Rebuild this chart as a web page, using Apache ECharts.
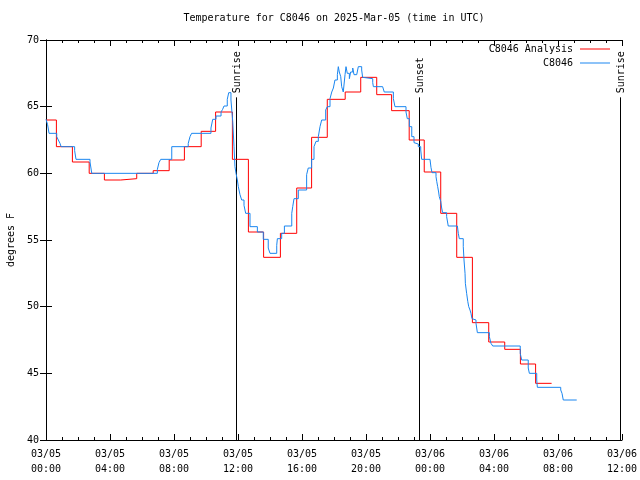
<!DOCTYPE html>
<html>
<head>
<meta charset="utf-8">
<script src="https://cdn.jsdelivr.net/npm/echarts@6/dist/echarts.min.js"></script>
<style>html,body{margin:0;padding:0;background:#fff}#c{width:640px;height:480px}</style>
</head>
<body>
<div id="c"></div>
<script>
// hours since 2025-03-05 00:00 UTC
const analysisHours = [0, 0.65, 1.65, 2.7, 3.65, 4.67, 5.67, 6.7, 7.7, 8.65, 9.7, 10.6, 11.65, 12.65, 13.6, 14.65, 15.67, 16.6, 17.58, 18.7, 19.67, 20.67, 21.6, 22.7, 23.64, 24.67, 25.67, 26.65, 27.67, 28.67, 29.65, 30.6, 31.6];
const analysisTemps = [64.0, 62.0, 60.85, 60.0, 59.5, 59.6, 60.0, 60.2, 61.0, 62.0, 63.15, 64.6, 61.05, 55.6, 53.7, 55.5, 58.9, 62.7, 65.55, 66.1, 67.2, 65.9, 64.7, 62.5, 60.1, 57.0, 53.7, 48.8, 47.35, 46.8, 45.7, 44.25, 44.25];

const obsHours = [0, 0.1, 0.19, 0.67, 0.77, 0.875, 0.94, 1.79, 1.875, 2.75, 2.86, 6.96, 7.06, 7.17, 7.86, 8.89, 9.0, 9.1, 10.31, 10.42, 10.625, 10.94, 11.04, 11.125, 11.33, 11.42, 11.56, 11.67, 11.75, 11.81, 11.875, 11.96, 12.02, 12.125, 12.23, 12.375, 12.48, 12.75, 13.21, 13.58, 13.89, 14.0, 14.42, 14.46, 14.73, 14.9, 15.36, 15.42, 15.5, 15.77, 16.29, 16.39, 16.6, 16.75, 16.875, 17.02, 17.125, 17.23, 17.48, 17.58, 17.75, 17.86, 17.96, 18.06, 18.21, 18.27, 18.33, 18.42, 18.48, 18.58, 18.69, 18.75, 18.83, 18.96, 19.04, 19.17, 19.25, 19.42, 19.52, 19.73, 19.79, 19.875, 20.42, 20.46, 21.04, 21.14, 21.71, 21.81, 22.5, 22.58, 22.71, 22.86, 23.0, 23.125, 23.27, 23.42, 23.48, 24.0, 24.06, 24.125, 24.375, 24.42, 24.48, 24.54, 24.58, 24.67, 24.73, 24.79, 25.04, 25.14, 25.71, 25.77, 25.83, 26.08, 26.125, 26.19, 26.21, 26.29, 26.36, 26.42, 26.5, 26.56, 26.625, 26.67, 26.875, 26.96, 27.71, 27.81, 27.92, 29.64, 29.73, 30.14, 30.21, 30.67, 30.71, 32.17, 32.25, 32.33, 33.17];
const obsTemps = [64.05, 63.65, 63.0, 62.75, 62.5, 62.25, 62.0, 61.7, 61.05, 60.85, 60.0, 60.3, 60.8, 61.05, 62.0, 62.25, 62.75, 63.0, 63.4, 64.05, 64.3, 64.6, 64.8, 65.05, 65.55, 66.05, 65.5, 63.9, 62.0, 60.5, 60.0, 59.5, 59.0, 58.4, 58.0, 57.6, 57.0, 56.0, 55.6, 55.05, 54.4, 54.0, 54.6, 55.1, 55.5, 56.05, 57.0, 57.5, 58.1, 58.75, 59.9, 60.4, 61.05, 62.0, 62.4, 62.75, 63.5, 64.0, 64.75, 65.0, 65.6, 66.1, 66.4, 67.0, 67.4, 68.0, 67.6, 67.25, 66.5, 66.1, 67.4, 68.0, 67.5, 67.1, 67.6, 67.9, 67.4, 67.5, 68.0, 67.75, 67.2, 67.1, 66.8, 66.5, 66.4, 66.1, 65.6, 65.0, 64.6, 64.1, 63.5, 62.75, 62.3, 62.2, 62.0, 61.75, 61.05, 60.9, 60.45, 60.05, 59.75, 59.4, 59.0, 58.6, 58.25, 57.9, 57.4, 57.05, 56.75, 56.05, 55.9, 55.5, 55.1, 54.5, 53.5, 52.5, 51.75, 51.0, 50.4, 50.0, 49.75, 49.5, 49.1, 49.0, 48.75, 48.05, 47.75, 47.25, 47.05, 46.5, 46.0, 45.4, 45.0, 44.5, 43.95, 43.75, 43.5, 43.0, 43.0];

const sunHours = [11.87, 23.33, 35.87];
const sunLabels = ['Sunrise', 'Sunset', 'Sunrise'];

const seriesNames = ['C8046 Analysis', 'C8046'];
const dayLabels = ['03/05', '03/06'];

const FONT = '"DejaVu Sans Mono", "Liberation Mono", monospace';

function fmtX(h) {
  const d = dayLabels[Math.floor(h / 24)] || '';
  const hh = String(Math.round(h % 24)).padStart(2, '0');
  return d + '\n' + hh + ':00';
}

const chart = echarts.init(document.getElementById('c'));
const axisCommon = {
  axisLine: { show: true, lineStyle: { color: '#000', width: 1 } },
  splitLine: { show: false }
};
const xBase = Object.assign({}, axisCommon, {
  type: 'value', min: 0, max: 36, interval: 4,
  axisTick: { show: true, inside: true, length: 6, lineStyle: { color: '#000' } },
  minorTick: { show: true, splitNumber: 4, length: 3, lineStyle: { color: '#000' } },
  minorSplitLine: { show: false }
});
const yBase = Object.assign({}, axisCommon, {
  type: 'value', min: 40, max: 70, interval: 5,
  axisTick: { show: true, inside: true, length: 6, lineStyle: { color: '#000' } }
});

chart.setOption({
  animation: false,
  backgroundColor: '#fff',
  title: {
    text: 'Temperature for C8046 on 2025-Mar-05 (time in UTC)',
    left: 334, top: 13, textAlign: 'center', padding: 0,
    textStyle: { fontFamily: FONT, fontSize: 10, fontWeight: 'normal', color: '#000' }
  },
  legend: {
    data: seriesNames,
    orient: 'vertical', align: 'right',
    right: 30, top: 43, padding: 0,
    icon: 'rect',
    itemWidth: 30, itemHeight: 1, itemGap: 2,
    textStyle: { fontFamily: FONT, fontSize: 10, color: '#000', lineHeight: 12, padding: [0, 2, 0, 0] }
  },
  grid: { left: 46, right: 18, top: 40, bottom: 40, containLabel: false, outerBoundsMode: 'none' },
  xAxis: [
    Object.assign({}, xBase, {
      position: 'bottom',
      axisLabel: { formatter: fmtX, fontFamily: FONT, fontSize: 10, color: '#000', margin: 7, lineHeight: 15 }
    }),
    Object.assign({}, xBase, { position: 'top', axisLabel: { show: false } })
  ],
  yAxis: [
    Object.assign({}, yBase, {
      position: 'left',
      name: 'degrees F', nameLocation: 'middle', nameGap: 30, nameRotate: 90,
      nameTextStyle: { fontFamily: FONT, fontSize: 10, color: '#000' },
      axisLabel: { fontFamily: FONT, fontSize: 10, color: '#000', margin: 7 }
    }),
    Object.assign({}, yBase, { position: 'right', axisLabel: { show: false } })
  ],
  series: [
    {
      name: seriesNames[0], type: 'line', step: 'end', symbol: 'none', showSymbol: false,
      color: '#ff0000', lineStyle: { width: 1, color: '#ff0000' },
      data: analysisHours.map((h, i) => [h, analysisTemps[i]])
    },
    {
      name: seriesNames[1], type: 'line', step: 'end', symbol: 'none', showSymbol: false,
      color: '#1a86f0', lineStyle: { width: 1, color: '#1a86f0' },
      data: obsHours.map((h, i) => [h, obsTemps[i]])
    },
    {
      type: 'custom', silent: true,
      data: sunHours.map((h, i) => [h, sunLabels[i]]),
      renderItem: function (params, api) {
        const t = api.value(0);
        const label = sunLabels[params.dataIndex];
        const bottom = api.coord([t, 40]);
        const top = api.coord([t, 65.7]);
        const x = Math.round(bottom[0]) + 0.5;
        return {
          type: 'group',
          children: [
            { type: 'line', shape: { x1: x, y1: bottom[1], x2: x, y2: top[1] },
              style: { stroke: '#000', lineWidth: 1 } },
            { type: 'text', x: x + 1, y: top[1] - 4, rotation: Math.PI / 2,
              style: { text: label, fill: '#000', font: '10px ' + FONT,
                       align: 'left', verticalAlign: 'middle',
                       textAlign: 'left', textVerticalAlign: 'middle' } }
          ]
        };
      }
    }
  ]
});
</script>
</body>
</html>
